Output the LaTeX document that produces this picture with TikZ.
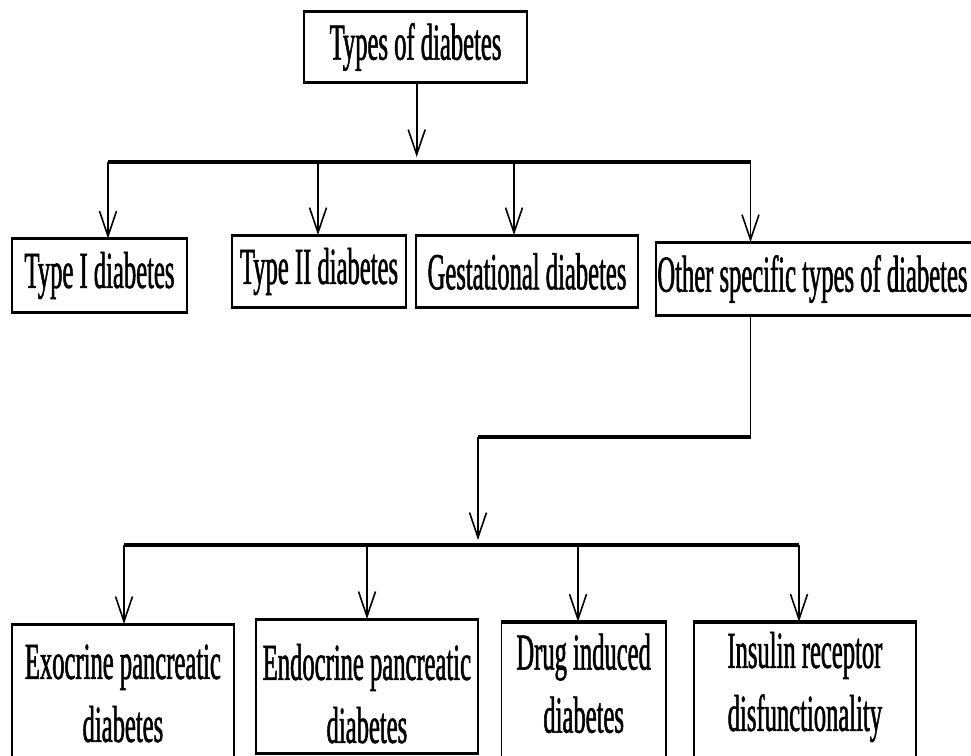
\documentclass[tikz,border=0pt]{standalone}
\usepackage{fontspec}
\setmainfont[FakeStretch=0.473,FakeBold=1]{Liberation Serif}
\usetikzlibrary{arrows.meta}

\begin{document}
\begin{tikzpicture}[x=1pt,y=-1pt,
  box/.style={draw,line width=1.8pt,inner sep=0pt,align=center,font=\fontsize{52}{63}\selectfont},
  lowbox/.style={box,anchor=north west},
  wire/.style={line width=1.6pt},
  bar/.style={line width=3.4pt},
  rim/.style={line width=2.8pt},
  arr/.style={wire,-{Straight Barb[length=25pt,width=17pt]}}]
\useasboundingbox (0,0) rectangle (971,755);
\clip (0,0) rectangle (971,755);

% the kinds
\node[box,minimum width=223pt,minimum height=69pt] (top) at (415.5,47) {Types of diabetes};
\node[box,minimum width=175pt,minimum height=72pt] (t1) at (99.5,275.5) {Type I diabetes};
\node[box,minimum width=174pt,minimum height=71pt] (t2) at (319,271.5) {Type II diabetes};
\node[box,minimum width=222pt,minimum height=71pt] (gest) at (527,271.5) {Gestational diabetes};
\node[box,anchor=west,text width=400pt,align=flush left,inner xsep=1.5pt,minimum height=72pt] (other) at (655,279) {Other specific types of diabetes};

% the other specific ones
\node[lowbox,minimum width=222pt,text height=117pt,text depth=29pt] (exo) at (11,624) {Exocrine pancreatic\\diabetes};
\node[lowbox,minimum width=222pt,text height=123pt,text depth=10pt] (endo) at (255,619) {Endocrine pancreatic\\diabetes};
\node[lowbox,minimum width=164.5pt,text height=110pt,text depth=40pt] (drug) at (500.5,621.7) {Drug induced\\diabetes};
\node[lowbox,minimum width=222pt,text height=108.3pt,text depth=40pt] (ins) at (693,621.7) {Insulin receptor\\disfunctionality};

\foreach \n in {top,t1,t2,gest,other,exo,endo,drug,ins}
  \draw[rim] (\n.north west) -- (\n.north east) (\n.south west) -- (\n.south east);

% first split
\coordinate (j0) at (416.7,162);
\coordinate (a1) at (108,162);
\coordinate (a2) at (318,162);
\coordinate (a3) at (514,162);
\coordinate (a4) at (750.5,162);
\draw[arr,shorten >=5pt] (top.south -| j0) -- (j0);
\draw[bar] (a1) -- (a4);
\draw[arr] (a1) -- (a1 |- t1.north);
\draw[arr] (a2) -- (a2 |- t2.north);
\draw[arr] (a3) -- (a3 |- gest.north);
\draw[arr] (a4) -- (a4 |- other.north);

% second split
\coordinate (k1) at (750.5,437);
\coordinate (k2) at (478,437);
\coordinate (j1) at (478,545);
\coordinate (c1) at (124,545);
\coordinate (c2) at (367,545);
\coordinate (c3) at (578,545);
\coordinate (c4) at (799,545);
\draw[wire] (other.south -| k1) -- (k1);
\draw[bar] (k1) -- (k2);
\draw[arr,shorten >=5pt] (k2) -- (j1);
\draw[bar] (c1) -- (c4);
\draw[arr] (c1) -- (c1 |- exo.north);
\draw[arr] (c2) -- (c2 |- endo.north);
\draw[arr] (c3) -- (c3 |- drug.north);
\draw[arr] (c4) -- (c4 |- ins.north);
\end{tikzpicture}
\end{document}
